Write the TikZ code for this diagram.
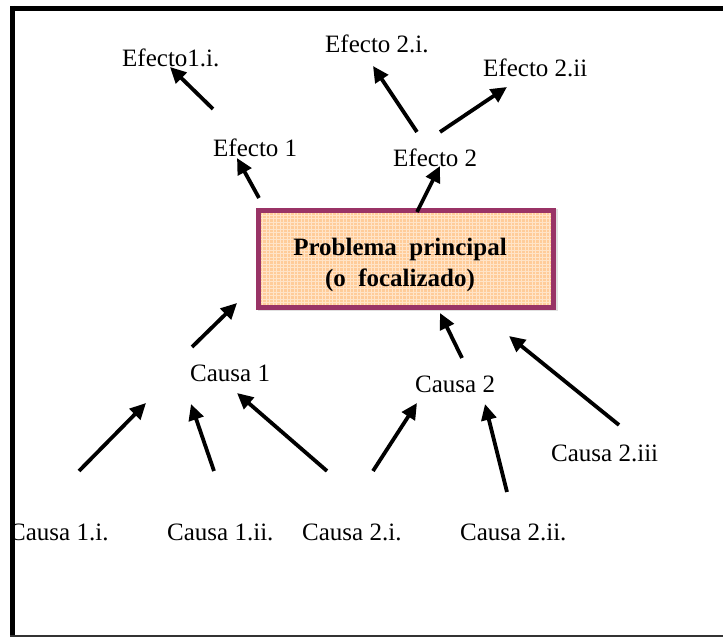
\documentclass[tikz,border=0pt]{standalone}
\usepackage{fontspec}
\setmainfont{Liberation Serif}
\usetikzlibrary{arrows.meta}

\definecolor{boxedge}{HTML}{993366}
\definecolor{boxfill}{HTML}{FFCC99}
\definecolor{boxgrid}{HTML}{FFE4C8}

\tikzset{
  lbl/.style={anchor=base west, inner sep=0pt, font=\fontsize{25}{30}\selectfont},
  arr/.style={line width=3.8pt, -{Triangle[length=16pt,width=15pt]}},
  frame/.style={line cap=butt}
}

\begin{document}
\begin{tikzpicture}[x=1pt,y=1pt]
\useasboundingbox (0,0) rectangle (723,639);
\fill[white] (0,0) rectangle (723,639);

% central problem box: faint shadow, textured fill, border
\fill[black!12] (257.5,327.5) rectangle (557.5,430);
\fill[boxfill] (256,329) rectangle (556,431);
\begin{scope}
  \clip (256,329) rectangle (556,431);
  \draw[boxgrid, line width=1pt] (256,329) grid[step=3.5] (556,431);
\end{scope}
\draw[boxedge, line width=5pt] (258.5,331.5) rectangle (553.5,428.5);
\node[inner sep=0pt, align=center, font=\bfseries\fontsize{25}{31}\selectfont] (prob) at (400,374)
  {Problema\ \ principal\\(o\ \ focalizado)};

% effects
\node[lbl] (ef1i)  at (122,572) {Efecto1.i.};
\node[lbl] (ef2i)  at (325,586) {Efecto 2.i.};
\node[lbl] (ef2ii) at (483,562) {Efecto 2.ii};
\node[lbl] (ef1)   at (213,482) {Efecto 1};
\node[lbl] (ef2)   at (393,472) {Efecto 2};

% causes
\node[lbl] (ca1)    at (190,257) {Causa 1};
\node[lbl] (ca2)    at (415,246) {Causa 2};
\node[lbl] (ca2iii) at (551,177) {Causa 2.iii};
\node[lbl] (c1i)    at (9,98)    {Causa 1.i.};
\node[lbl] (c1ii)   at (167,98)  {Causa 1.ii.};
\node[lbl] (c2i)    at (302,98)  {Causa 2.i.};
\node[lbl] (c2ii)   at (460,98)  {Causa 2.ii.};

% arrow end points
\coordinate (a1s) at (213,530); \coordinate (a1e) at (170,572);
\coordinate (a2s) at (259,441); \coordinate (a2e) at (237,481);
\coordinate (a3s) at (417,507); \coordinate (a3e) at (373,573);
\coordinate (a4s) at (440,507); \coordinate (a4e) at (507,552);
\coordinate (a5s) at (417,427); \coordinate (a5e) at (440,473);
\coordinate (a6s) at (192,292); \coordinate (a6e) at (237,336);
\coordinate (a7s) at (79,168);  \coordinate (a7e) at (146,236);
\coordinate (a8s) at (214,168); \coordinate (a8e) at (191,235);
\coordinate (a9s) at (327,168); \coordinate (a9e) at (237,246);
\coordinate (a10s) at (462,281); \coordinate (a10e) at (440,326);
\coordinate (a11s) at (619,214); \coordinate (a11e) at (509,303);
\coordinate (a12s) at (373,168); \coordinate (a12e) at (417,236);
\coordinate (a13s) at (507,147); \coordinate (a13e) at (485,235);

\foreach \k in {1,...,13} \draw[arr] (a\k s) -- (a\k e);

% outer frame
\draw[frame, line width=5pt] (10,630.5) -- (723,630.5);
\draw[frame, line width=4.5pt] (12.5,633) -- (12.5,2);
\draw[frame, line width=2pt, black!80] (10,3) -- (723,3);
\end{tikzpicture}
\end{document}
